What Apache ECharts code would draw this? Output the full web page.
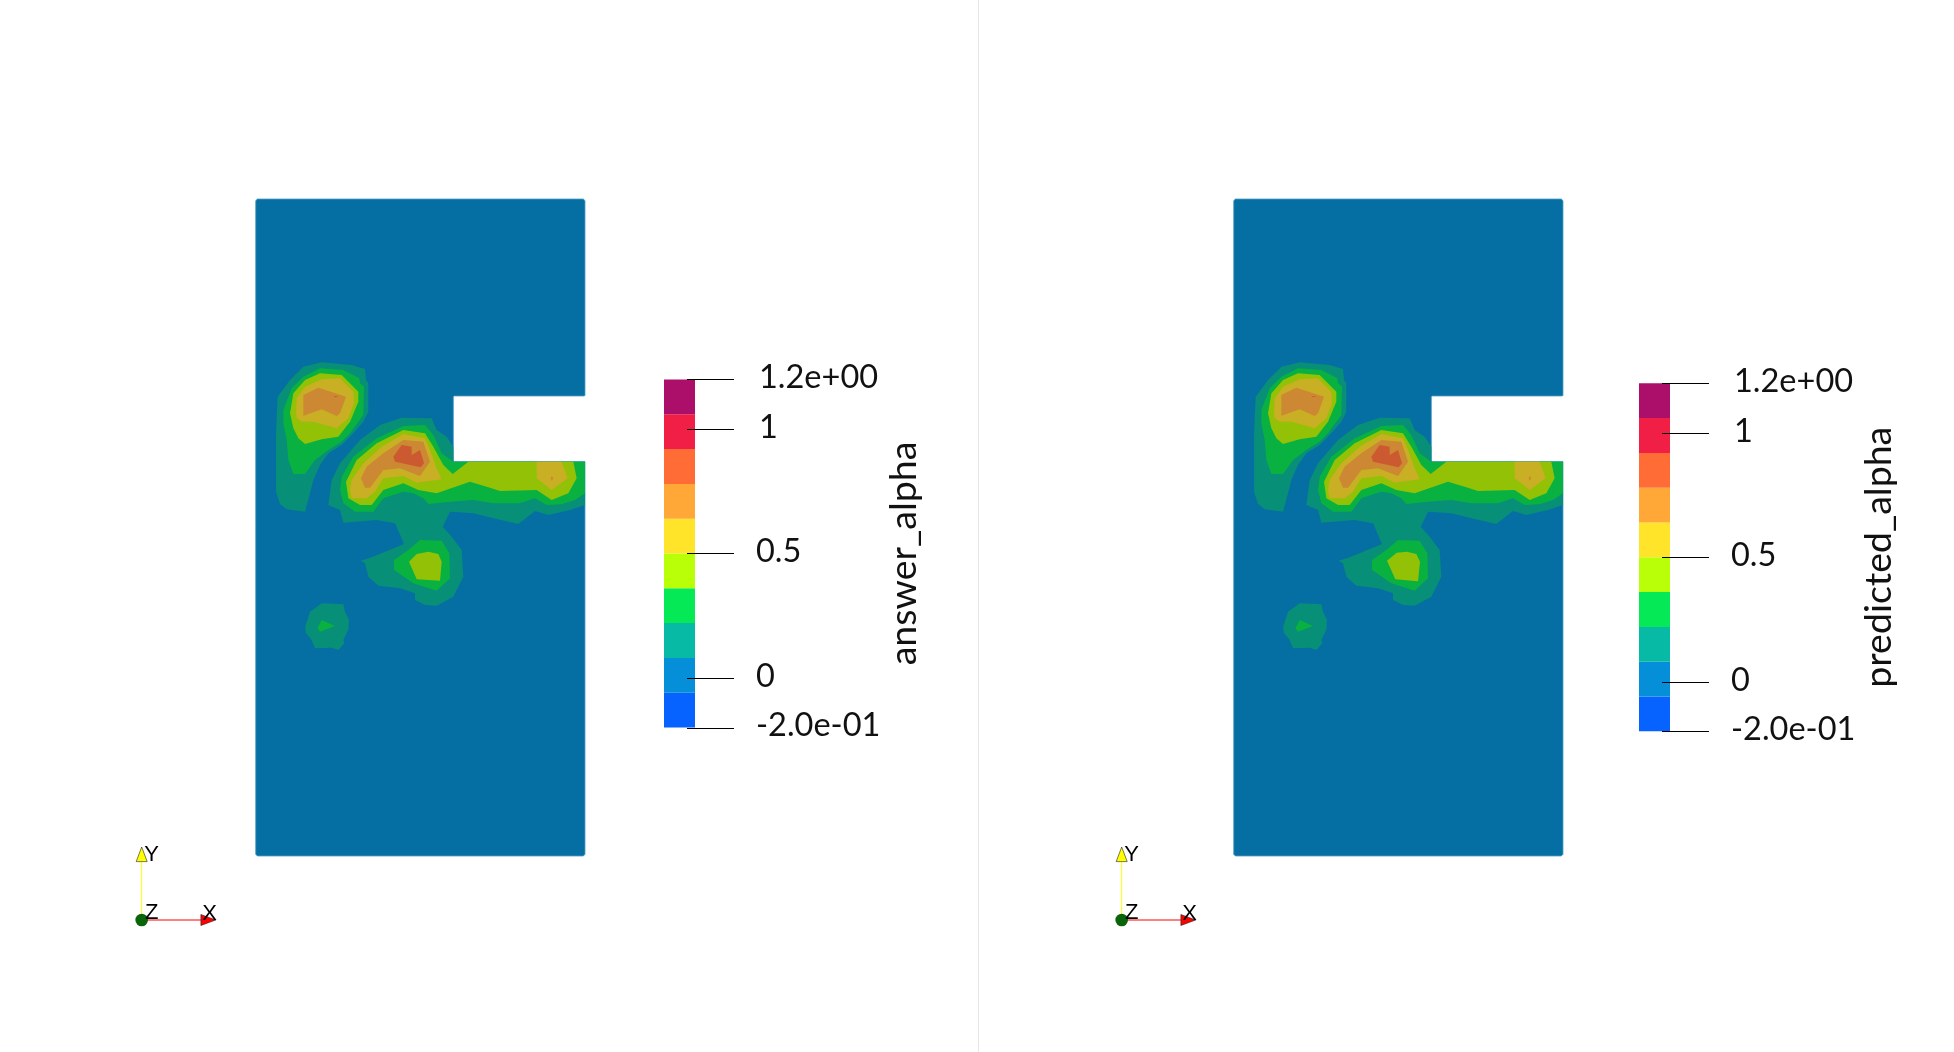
<!DOCTYPE html>
<html><head><meta charset="utf-8">
<style>html,body{margin:0;padding:0;background:#fff}#c{width:1954px;height:1052px}</style>
<script src="https://cdn.jsdelivr.net/npm/echarts@6/dist/echarts.min.js"></script>
</head><body><div id="c"></div>
<script>
// Mesh coordinates: x to the right, y downward, in mesh units (3 units = 1 screen pixel).
const domainOutline = [[-8,-453],[970,-453],[975,-448],[975,136],[973,138],[582,138],[580,140],[580,333],[582,335],[975,335],[975,1513],[970,1518],[-8,1518],[-13,1513],[-13,-448]];

// Filled contour bands, lowest band first.
const tealRegions = [
  [[135,485],[80,478],[60,462],[48,425],[48,250],[50,200],[53,140],[90,90],[130,50],[185,37],[275,45],[315,57],[318,90],[325,100],[325,185],[310,215],[280,250],[245,285],[205,310],[180,345],[160,390],[150,430]],
  [[205,465],[215,390],[240,340],[300,270],[360,225],[425,203],[515,205],[530,240],[560,260],[580,290],[580,335],[975,335],[975,465],[930,480],[865,495],[825,483],[775,522],[700,505],[640,490],[570,485],[548,530],[575,560],[605,600],[610,680],[580,740],[530,767],[495,765],[465,750],[465,730],[420,715],[355,707],[325,680],[315,640],[302,632],[335,622],[432,582],[405,520],[350,510],[250,518],[240,480]],
  [[185,760],[250,763],[255,785],[267,810],[265,840],[250,870],[253,880],[235,900],[215,893],[165,895],[155,870],[138,850],[135,830],[150,785]]
];
const greenRegions = [
  [[100,372],[135,372],[165,330],[205,300],[245,275],[270,250],[310,195],[312,110],[300,100],[298,85],[250,60],[180,55],[130,80],[95,115],[70,180],[70,220],[80,270],[85,330]],
  [[340,485],[285,485],[250,460],[240,420],[245,380],[280,320],[350,265],[430,228],[495,225],[520,255],[545,310],[580,335],[975,335],[975,430],[945,450],[905,463],[860,465],[825,445],[780,460],[700,460],[640,450],[570,455],[505,462],[490,445],[460,430],[430,425],[370,445]],
  [[480,570],[545,572],[568,610],[570,685],[530,722],[460,700],[402,660],[402,630],[445,600]],
  [[185,810],[225,828],[180,845],[172,835]]
];
const limeRegions = [
  [[180,70],[245,75],[295,125],[295,155],[270,215],[235,260],[185,268],[135,282],[115,265],[100,235],[90,190],[100,130],[135,90]],
  [[300,465],[335,465],[370,420],[430,400],[475,420],[530,430],[630,395],[680,410],[720,423],[830,420],[875,450],[925,430],[950,385],[940,335],[625,335],[578,372],[550,345],[520,290],[495,250],[430,240],[350,280],[290,330],[258,395],[265,445]],
  [[505,605],[535,612],[545,635],[540,692],[470,688],[447,635],[470,612]]
];
const goldRegions = [
  [[110,205],[125,215],[160,215],[230,235],[265,205],[282,160],[280,125],[240,85],[185,88],[135,110],[110,145],[108,190]],
  [[275,445],[320,445],[345,425],[370,385],[430,378],[470,398],[545,388],[530,355],[510,300],[495,265],[430,252],[365,290],[310,340],[275,390],[270,420]],
  [[830,335],[905,335],[923,385],[875,420],[830,385]]
];
const orangeRegions = [
  [[130,135],[175,113],[258,140],[240,190],[230,198],[185,178],[130,197]],
  [[315,413],[330,413],[370,360],[420,355],[480,378],[510,335],[490,275],[430,270],[370,310],[320,350],[303,385]],
  [[875,378],[880,385],[875,392],[872,385]]
];
const redRegions = [
  [[425,285],[455,290],[455,315],[480,300],[492,340],[482,352],[405,335],[400,320]],
  [[220,138],[235,139],[226,142]]
];
// The predicted field differs from the answer only in a few outlines at this resolution.
const predictedLimeRegions = [
  limeRegions[0], limeRegions[1],
  [[507,605],[535,612],[546,635],[540,694],[472,688],[447,632],[476,608]]
];

const bandColors = {domain:'#056fa3', edge:'#4f9cc4', teal:'#078f78', green:'#09b141', lime:'#93c106', gold:'#c8af23', orange:'#cc8833', red:'#cc5a30'};

// Colour bar
const barBands = [
  [-0.2,-0.06,'#0763ff'],[-0.06,0.08,'#068fd9'],[0.08,0.22,'#06baa5'],[0.22,0.36,'#06e957'],
  [0.36,0.5,'#b8ff08'],[0.5,0.64,'#ffe42a'],[0.64,0.78,'#ffa838'],[0.78,0.92,'#ff6c35'],
  [0.92,1.06,'#f11e46'],[1.06,1.2,'#ac0f6a']
];
const barTicks = [-0.2,0,0.5,1,1.2];
const barTickLabels = {'-0.2':'-2.0e-01','0':'0','0.5':'0.5','1':'1','1.2':'1.2e+00'};
const axesTriad = [
  {name:'X',dir:[1,0],color:'#ff0000'},
  {name:'Y',dir:[0,1],color:'#ffff00'}
];

const FONT = 'Lato';

function panel(i, domainLeft, barLeft, barTop, triadLeft, title, lime){
  const gid = i*3;
  const grids = [
    {left:domainLeft, top:199, width:329.3, height:657},
    {left:barLeft, top:barTop, width:31, height:348},
    {left:triadLeft, top:847, width:74, height:73}
  ];
  const xAxes = [
    {gridIndex:gid, type:'value', min:-13, max:975, show:false},
    {gridIndex:gid+1, type:'value', min:0, max:1, show:false},
    {gridIndex:gid+2, type:'value', min:0, max:1, show:false}
  ];
  const lblStyle = {color:'#111', fontFamily:FONT, fontWeight:400, fontSize:32.5};
  const yAxes = [
    {gridIndex:gid, type:'value', min:-453, max:1518, inverse:true, show:false},
    {gridIndex:gid+1, type:'value', min:-0.2, max:1.2, position:'right', offset:-8, z:10, splitLine:{show:false},
      axisLine:{show:false},
      axisTick:{show:false},
      axisLabel:{show:true, margin:69, customValues:barTicks, ...lblStyle, padding:[0,0,3,0],
        formatter:v=>{const k=String(+(+v).toFixed(1)); return (+k>=1?'{hi|':'{lo|')+barTickLabels[k]+'}';},
        rich:{hi:{...lblStyle,padding:[0,0,0,3]},lo:{...lblStyle}}},
      name:title, nameLocation:'middle', nameRotate:90, nameGap:198,
      nameTextStyle:{color:'#111', fontFamily:FONT, fontWeight:400, fontSize:37.5}},
    {gridIndex:gid+2, type:'value', min:0, max:1, show:false}
  ];
  const layers = [
    [[domainOutline],bandColors.domain,bandColors.edge],[tealRegions,bandColors.teal],[greenRegions,bandColors.green],
    [lime,bandColors.lime],[goldRegions,bandColors.gold],[orangeRegions,bandColors.orange],[redRegions,bandColors.red]
  ];
  const series = layers.map(([regions,color,edge])=>({
    type:'custom', xAxisIndex:gid, yAxisIndex:gid, silent:true, animation:false, clip:false,
    coordinateSystem:'cartesian2d',
    data:regions.map((_,k)=>[k]),
    encode:{x:[],y:[]},
    renderItem:(p,api)=>({type:'polygon', shape:{points:regions[api.value(0)].map(q=>api.coord(q))}, style:{fill:color,stroke:edge||null,lineWidth:edge?0.8:0}})
  }));
  series.push({
    type:'custom', xAxisIndex:gid+1, yAxisIndex:gid+1, silent:true, animation:false,
    data:barBands.map(b=>[b[0],b[1]]),
    encode:{x:[],y:[0,1]},
    renderItem:(p,api)=>{
      const a=api.coord([0,api.value(0)]), b=api.coord([1,api.value(1)]);
      return {type:'rect', shape:{x:a[0],y:b[1],width:b[0]-a[0],height:a[1]-b[1]}, style:{fill:barBands[p.dataIndex][2]}};
    }
  });
  // Colour-bar tick marks: they start inside the bar and run out past its right side.
  series.push({
    type:'custom', xAxisIndex:gid+1, yAxisIndex:gid+1, silent:true, animation:false, clip:false, z:7,
    data:barTicks.map(v=>[v]),
    encode:{x:[],y:0},
    renderItem:(p,api)=>{
      const a=api.coord([0.742,api.value(0)]), b=api.coord([2.258,api.value(0)]);
      const y=Math.round(a[1])+0.5;
      return {type:'line', shape:{x1:a[0],y1:y,x2:b[0],y2:y}, style:{stroke:'#000',lineWidth:1}};
    }
  });
  series.push({
    type:'custom', xAxisIndex:gid+2, yAxisIndex:gid+2, silent:true, animation:false, clip:false, z:5,
    data:axesTriad.map((_,k)=>[k]),
    encode:{x:[],y:[]},
    renderItem:(p,api)=>{
      const t=axesTriad[api.value(0)], d=t.dir, n=[d[1],d[0]];
      const o=api.coord([0,0]), tip=api.coord(d), base=api.coord([d[0]*0.8,d[1]*0.8]);
      const h=5.5, cone=[tip,[base[0]+n[0]*h,base[1]+n[1]*h],[base[0]-n[0]*h,base[1]-n[1]*h]];
      const lbl = t.name==='X' ? {x:tip[0]-6,y:tip[1]-6} : {x:tip[0]+10,y:tip[1]+8};
      return {type:'group', children:[
        {type:'line', shape:{x1:o[0],y1:o[1],x2:base[0],y2:base[1]}, style:{stroke:t.color,lineWidth:1}},
        {type:'polygon', shape:{points:cone}, style:{fill:t.color,stroke:'#222',lineWidth:0.6}},
        {type:'text', style:{text:t.name,x:lbl.x,y:lbl.y,fill:'#000',font:'22px "Liberation Sans"',align:'center',verticalAlign:'middle'}}
      ]};
    }
  });
  series.push({
    type:'custom', xAxisIndex:gid+2, yAxisIndex:gid+2, silent:true, animation:false, clip:false, z:6,
    data:[[0,0]],
    encode:{x:0,y:1},
    renderItem:(p,api)=>{
      const o=api.coord([0,0]);
      return {type:'group', children:[
        {type:'circle', shape:{cx:o[0],cy:o[1],r:6.3}, style:{fill:'#0a640a'}},
        {type:'text', style:{text:'Z',x:o[0]+10,y:o[1]-7,fill:'#000',font:'22px "Liberation Sans"',align:'center',verticalAlign:'middle'}}
      ]};
    }
  });
  return {grids,xAxes,yAxes,series};
}

const L = panel(0, 255.7, 664, 379.5, 141.7, 'answer_alpha', limeRegions);
const R = panel(1, 1233.7, 1639, 383.3, 1121.7, 'predicted_alpha', predictedLimeRegions);

const chart = echarts.init(document.getElementById('c'), null, {renderer:'canvas'});
chart.setOption({
  animation:false, backgroundColor:'#fff',
  grid:[...L.grids,...R.grids],
  xAxis:[...L.xAxes,...R.xAxes],
  yAxis:[...L.yAxes,...R.yAxes],
  series:[...L.series,...R.series],
  graphic:[{type:'line', shape:{x1:978.5,y1:0,x2:978.5,y2:1052}, style:{stroke:'#e6e6e6',lineWidth:1}}]
});
</script></body></html>
